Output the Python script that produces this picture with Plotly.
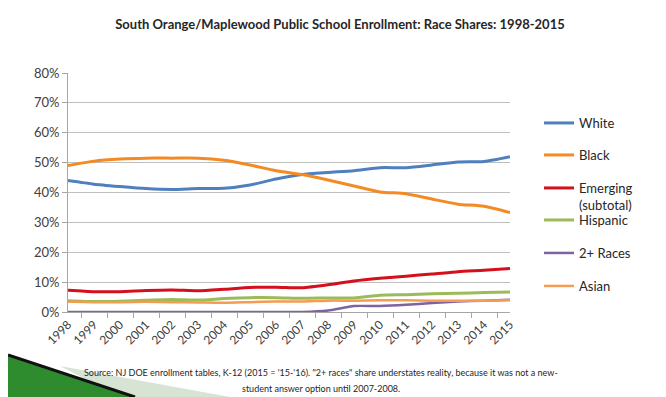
import plotly.graph_objects as go

years = [str(y) for y in range(1998, 2016)]
white = [44.0, 42.8, 42.0, 41.3, 41.0, 41.3, 41.4, 42.5, 44.5, 46.0, 46.7, 47.3, 48.3, 48.3, 49.2, 50.2, 50.4, 52.0]
black = [49.0, 50.5, 51.2, 51.5, 51.5, 51.5, 50.8, 49.2, 47.3, 46.0, 44.2, 42.2, 40.2, 39.6, 37.8, 36.1, 35.4, 33.3]
emerging = [7.3, 6.8, 6.8, 7.2, 7.4, 7.1, 7.6, 8.2, 8.3, 8.1, 9.1, 10.4, 11.3, 12.0, 12.7, 13.5, 14.0, 14.6]
hispanic = [3.8, 3.5, 3.6, 3.9, 4.2, 4.0, 4.5, 4.8, 4.8, 4.6, 4.7, 4.7, 5.6, 5.8, 6.1, 6.3, 6.5, 6.7]
two_plus = [0.0, 0.0, 0.0, 0.0, 0.0, 0.0, 0.0, 0.0, 0.0, 0.0, 0.5, 2.0, 2.0, 2.4, 3.0, 3.5, 3.8, 4.1]
asian = [3.5, 3.3, 3.3, 3.4, 3.3, 3.2, 3.1, 3.3, 3.5, 3.5, 3.8, 3.8, 3.9, 3.9, 3.8, 3.8, 3.8, 3.9]

series = [
    ("White", white, "#4F7FBD", 3),
    ("Black", black, "#F38A22", 3),
    ("Emerging<br>(subtotal)", emerging, "#D4101C", 3),
    ("Hispanic", hispanic, "#9BBB59", 3),
    ("2+ Races", two_plus, "#7F63A1", 2.5),
    ("Asian", asian, "#F59B52", 2.5),
]

# the page body adds an 8px offset; work in reference pixels and shift
OFF = 8
W, H = 666 - OFF, 397 - OFF
L, R, T, B = 68 - OFF, 510 - OFF, 73 - OFF, 312 - OFF

def px_x(px):
    return (px - OFF - L) / (R - L)

def px_y(py):
    return (B - (py - OFF)) / (B - T)

legend_y = [123, 155, 173, 220, 253, 286]

fig = go.Figure()
font = "Lato, 'Open Sans', sans-serif"
legends = {}
for i, (name, vals, color, w) in enumerate(series):
    lname = "legend" if i == 0 else f"legend{i+1}"
    fig.add_trace(go.Scatter(
        x=years, y=[v / 100 for v in vals], name=name, mode="lines",
        line=dict(color=color, width=w, shape="spline", smoothing=0.6),
        legend=lname,
    ))
    legends[lname] = dict(
        x=px_x(539), y=px_y(legend_y[i]), xanchor="left",
        yanchor="middle" if i != 2 else "top",
        bgcolor="rgba(0,0,0,0)", borderwidth=0,
        font=dict(family=font, size=13, color="#262626"),
        itemwidth=30, valign="top" if i == 2 else "middle",
    )

fig.update_layout(
    width=W, height=H,
    margin=dict(l=L, r=W - R, t=T, b=H - B, autoexpand=False),
    paper_bgcolor="white", plot_bgcolor="white",
    title=dict(text="<b>South Orange/Maplewood Public School Enrollment: Race Shares: 1998-2015</b>",
               x=(340 - OFF) / W, xanchor="center", y=1 - (24 - OFF) / H, yanchor="middle",
               font=dict(family=font, size=13, color="#262626")),
    font=dict(family=font, color="#404040"),
    showlegend=True,
    **legends,
)
fig.update_xaxes(
    type="category", tickangle=-45, tickson="boundaries",
    ticks="outside", ticklen=5, tickcolor="#A6A6A6",
    showline=True, linecolor="#A6A6A6", linewidth=1,
    showgrid=False, tickfont=dict(family=font, size=12, color="#404040"),
)
fig.update_yaxes(
    range=[0, 0.8], dtick=0.1, tickformat=".0%",
    ticks="outside", ticklen=5, tickcolor="#A6A6A6",
    showline=True, linecolor="#A6A6A6", linewidth=1,
    showgrid=True, gridcolor="#BFBFBF", gridwidth=1,
    zeroline=False, tickfont=dict(family=font, size=13, color="#404040"),
)

source_lines = [
    "Source: NJ DOE enrollment tables, K-12 (2015 = '15-'16). \"2+ races\" share understates reality, because it was not a new-",
    "student answer option until 2007-2008.",
]
for txt, yy in zip(source_lines, [372, 388]):
    fig.add_annotation(
        text=txt, xref="paper", yref="paper", x=px_x(321), y=px_y(yy),
        xanchor="center", yanchor="middle", showarrow=False,
        font=dict(family=font, size=9, color="#262626"),
    )

# decorative green swoosh in the lower-left corner
fig.add_shape(type="path", xref="paper", yref="paper",
              path=f"M {px_x(60)},{px_y(366)} L {px_x(230)},{px_y(397)} L {px_x(120)},{px_y(397)} Z",
              fillcolor="#D7E4D3", line=dict(width=0), layer="below")
fig.add_shape(type="path", xref="paper", yref="paper",
              path=f"M {px_x(OFF)},{px_y(355)} L {px_x(135)},{px_y(397)} L {px_x(OFF)},{px_y(397)} Z",
              fillcolor="#2E8B2E", line=dict(width=0), layer="below")
fig.add_shape(type="line", xref="paper", yref="paper",
              x0=px_x(OFF), y0=px_y(355), x1=px_x(135), y1=px_y(397),
              line=dict(color="#111111", width=3))

fig.write_html("out.html")
